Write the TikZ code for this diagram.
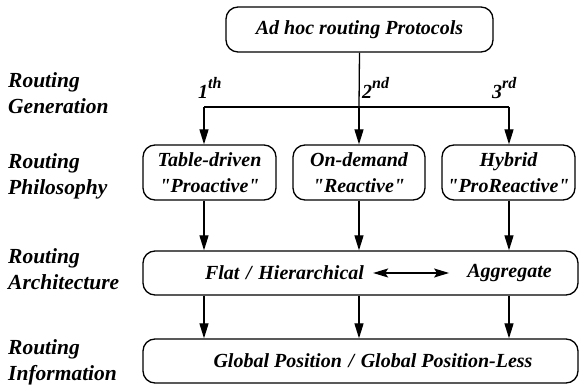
\documentclass[tikz,border=0pt]{standalone}
\usepackage{fontspec}
\setmainfont{Liberation Serif}
\newfontfamily\tnr{Liberation Serif}
\usetikzlibrary{arrows.meta,calc}
\newcommand{\sq}{\symbol{34}}
\newcommand{\supx}[1]{\raisebox{0.5em}{\fontsize{16}{16}\selectfont\tnr\bfseries\itshape #1}}
\newcommand{\bfa}{\fontsize{20}{26}\selectfont\tnr\bfseries\itshape}
\newcommand{\bfl}{\fontsize{21.5}{26}\selectfont\tnr\bfseries\itshape}
\begin{document}
\begin{tikzpicture}[x=1pt,y=1pt,
  every node/.style={font=\bfa},
  box/.style={draw,line width=1.3pt,rounded corners=12pt,inner sep=0pt,align=center},
  lbl/.style={font=\bfl,align=left,anchor=west,inner sep=0pt},
  conn/.style={line width=1.3pt},
  arr/.style={line width=1.3pt,-{Triangle[length=15pt,width=9pt]}},
  darr/.style={line width=1.3pt,{Stealth[length=15pt,width=9pt,inset=3pt]}-{Stealth[length=15pt,width=9pt,inset=3pt]}}]
\useasboundingbox (0,0) rectangle (579,388);
% boxes
\node[box,minimum width=267pt,minimum height=45pt] (top) at (359.5,358.5) {Ad hoc routing Protocols};
\node[box,minimum width=133pt,minimum height=55pt] (p1) at (209.5,215.5) {Table-driven\\ \sq Proactive\sq};
\node[box,minimum width=132pt,minimum height=55pt] (p2) at (359,215.5) {On-demand\\ \sq Reactive\sq};
\node[box,minimum width=133pt,minimum height=55pt] (p3) at (508.5,215.5) {Hybrid\\\sq ProReactive\sq};
\node[box,minimum width=435pt,minimum height=44pt] (arch) at (360.5,115) {};
\node[box,minimum width=435pt,minimum height=44pt] (info) at (360.5,27) {};
% inner texts
\node[inner sep=0pt] (fl) at (284.5,115) {Flat\,\,/\,\,Hierarchical};
\node[inner sep=0pt] (ag) at (509.5,115) {Aggregate};
\node[inner sep=0pt] (gp) at (373,27) {Global Position\,\,/\,\,Global Position-Less};
\draw[darr] ($(fl.east)+(9,0)$) -- ($(ag.west)+(-18,0)$);
% left labels
\node[lbl] (lg) at (8,295) {Routing\\Generation};
\node[lbl] (lp) at (8,212) {Routing\\Philosophy};
\node[lbl] (la) at (8,119) {Routing\\Architecture};
\node[lbl] (li) at (8,26) {Routing\\Information};
% generation connectors
\coordinate (j1) at (204,281);
\coordinate (j3) at (509,281);
\coordinate (j2) at (359,281);
\draw[conn] (top.south) -- (j2);
\draw[conn] (j1) -- (j3);
\draw[arr] (j1) -- (j1 |- p1.north);
\draw[arr] (j2) -- (j2 |- p2.north);
\draw[arr] (j3) -- (j3 |- p3.north);
\node[anchor=base west,inner sep=0pt] (g1) at (198,289) {1\supx{th}};
\node[anchor=base west,inner sep=0pt] (g2) at (362,289) {2\supx{nd}};
\node[anchor=base west,inner sep=0pt] (g3) at (492,289) {3\supx{rd}};
% philosophy to architecture
\draw[arr] (j1 |- p1.south) -- (j1 |- arch.north);
\draw[arr] (j2 |- p2.south) -- (j2 |- arch.north);
\draw[arr] (j3 |- p3.south) -- (j3 |- arch.north);
% architecture to information
\draw[arr] (j1 |- arch.south) -- (j1 |- info.north);
\draw[arr] (j2 |- arch.south) -- (j2 |- info.north);
\draw[arr] (j3 |- arch.south) -- (j3 |- info.north);
\end{tikzpicture}
\end{document}
